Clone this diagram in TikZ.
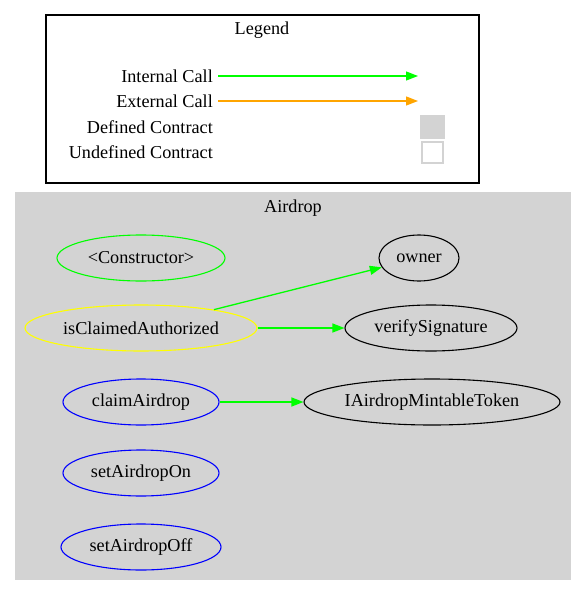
\documentclass[tikz,border=0pt]{standalone}
\usepackage{fontspec}
\setmainfont{Liberation Serif}
\usetikzlibrary{shapes.geometric,arrows.meta}
\definecolor{gvgray}{HTML}{D3D3D3}
\definecolor{gvgreen}{HTML}{00FF00}
\definecolor{gvorange}{HTML}{FFA500}
\definecolor{gvyellow}{HTML}{FFFF00}
\definecolor{gvblue}{HTML}{0000FF}
\begin{document}
\begin{tikzpicture}[x=1pt,y=-1pt,
  every node/.style={font=\fontsize{18.2}{22}\selectfont},
  fn/.style={ellipse,draw,line width=1.1pt,inner sep=0pt,minimum height=46pt},
  intcall/.style={draw=gvgreen,line width=1.3pt,-{Triangle[length=12pt,width=9pt]}},
  extcall/.style={draw=gvorange,line width=1.3pt,-{Triangle[length=12pt,width=9pt]}},
  lbl/.style={anchor=east,inner sep=0pt}
]
\useasboundingbox (0,0) rectangle (587,597);
\fill[white] (0,0) rectangle (587,597);
% Legend
\draw[line width=1.2pt] (46,15) rectangle (479,183);
\node (legendtitle) at (262,30) {Legend};
\node[lbl] (lint) at (213,76) {Internal Call};
\node[lbl] (lext) at (213,101) {External Call};
\node[lbl] (ldef) at (213,127) {Defined Contract};
\node[lbl] (lundef) at (213,152) {Undefined Contract};
\coordinate (ia) at (218,76);
\coordinate (ib) at (418,76);
\coordinate (ea) at (218,101);
\coordinate (eb) at (418,101);
\draw[intcall] (ia) -- (ib);
\draw[extcall] (ea) -- (eb);
\node[fill=gvgray,minimum width=25pt,minimum height=24pt,inner sep=0pt] (defbox) at (432.5,127) {};
\node[draw=gvgray,fill=white,line width=1.2pt,minimum width=21pt,minimum height=21pt,inner sep=0pt] (undefbox) at (432.5,152.5) {};
% Cluster
\fill[gvgray] (15,192) rectangle (571,580);
\node (clustertitle) at (293,208) {Airdrop};
\node[fn,draw=gvgreen,minimum width=168pt] (ctor) at (141,258) {<Constructor>};
\node[fn,draw=black,minimum width=80pt] (owner) at (419,258) {owner};
\node[fn,draw=gvyellow,minimum width=232pt] (isc) at (141,328) {isClaimedAuthorized};
\node[fn,draw=black,minimum width=172pt] (verify) at (431,328) {verifySignature};
\node[fn,draw=gvblue,minimum width=156pt] (claim) at (141,402) {claimAirdrop};
\node[fn,draw=black,minimum width=256pt] (token) at (432,402) {IAirdropMintableToken};
\node[fn,draw=gvblue,minimum width=156pt] (on) at (141,473) {setAirdropOn};
\node[fn,draw=gvblue,minimum width=160pt] (off) at (141,547) {setAirdropOff};
\draw[intcall] (isc) -- (owner);
\draw[intcall] (isc) -- (verify);
\draw[intcall] (claim) -- (token);
\end{tikzpicture}
\end{document}
